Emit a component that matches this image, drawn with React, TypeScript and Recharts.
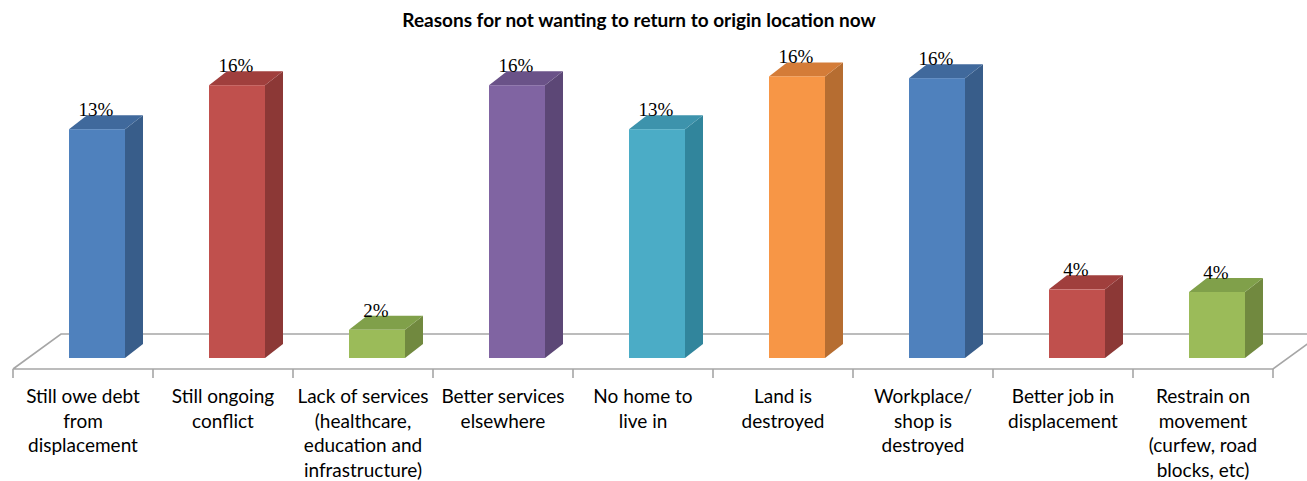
import { BarChart, Bar, XAxis, YAxis, LabelList } from "recharts";

// category labels, already wrapped as in the source chart
const CATEGORY_LINES = [
  ["Still owe debt", "from", "displacement"],
  ["Still ongoing", "conflict"],
  ["Lack of services", "(healthcare,", "education and", "infrastructure)"],
  ["Better services", "elsewhere"],
  ["No home to", "live in"],
  ["Land is", "destroyed"],
  ["Workplace/", "shop is", "destroyed"],
  ["Better job in", "displacement"],
  ["Restrain on", "movement", "(curfew, road", "blocks, etc)"],
];

// share of respondents (%)
const VALUES = [13.0, 15.5, 1.6, 15.5, 13.0, 16.0, 15.9, 3.9, 3.75];
// labels printed on top of the bars
const VALUE_LABELS = ["13%", "16%", "2%", "16%", "13%", "16%", "16%", "4%", "4%"];

const TITLE = "Reasons for not wanting to return to origin location now";

const W = 1307;
const H = 481;
const PLOT_LEFT = 27;
const PLOT_RIGHT = 1287;
const PLOT_TOP = 6;
const BASE_Y = 358;
const XAXIS_H = 110;
const Y_MAX = 20;

// bar depth (3d look)
const DX = 18;
const DY = -14;
// floor geometry relative to the bars
const FLOOR_SHIFT_X = 14;
const FLOOR_SHIFT_Y = 11;
const FLOOR_DX = 48;
const FLOOR_DY = -35;

// office 2007 palette: front, side, top
const PALETTE = [
  { front: "#4F81BD", side: "#385D8A", top: "#40699C" },
  { front: "#C0504D", side: "#8C3836", top: "#A03F3D" },
  { front: "#9BBB59", side: "#71893F", top: "#80A04A" },
  { front: "#8064A2", side: "#5C4776", top: "#6A5288" },
  { front: "#4BACC6", side: "#31859C", top: "#3D93AC" },
  { front: "#F79646", side: "#B66D31", top: "#D47C38" },
];
const COLOR_INDEX = [0, 1, 2, 3, 4, 5, 0, 1, 2];

const data = CATEGORY_LINES.map((lines, i) => ({
  name: lines.join(" "),
  value: VALUES[i],
}));

const Box3D = (props: any) => {
  const { x, y, width, height, index } = props;
  const c = PALETTE[COLOR_INDEX[index % COLOR_INDEX.length]];
  const r = x + width;
  const b = y + height;
  return (
    <g>
      <polygon
        points={`${r},${y} ${r + DX},${y + DY} ${r + DX},${b + DY} ${r},${b}`}
        fill={c.side}
      />
      <polygon
        points={`${x},${y} ${x + DX},${y + DY} ${r + DX},${y + DY} ${r},${y}`}
        fill={c.top}
      />
      <rect x={x} y={y} width={width} height={height} fill={c.front} />
    </g>
  );
};

const ValueLabel = (props: any) => {
  const { x, y, width, index } = props;
  return (
    <text
      x={x + width / 2 - 1}
      y={y + DY + 1}
      textAnchor="middle"
      fontFamily="'Liberation Serif', 'DejaVu Serif', serif"
      fontSize={19}
      fill="#000"
    >
      {VALUE_LABELS[index]}
    </text>
  );
};

const CategoryTick = (props: any) => {
  const { x, index } = props;
  const lines = CATEGORY_LINES[index] || [];
  return (
    <text
      x={x - FLOOR_SHIFT_X}
      y={BASE_Y + 45}
      textAnchor="middle"
      fontFamily="Lato, 'Open Sans', sans-serif"
      fontSize={19}
      fill="#000"
    >
      {lines.map((l, i) => (
        <tspan key={i} x={x - FLOOR_SHIFT_X} dy={i === 0 ? 0 : 24.5}>
          {l}
        </tspan>
      ))}
    </text>
  );
};

function Floor() {
  const fy = BASE_Y + FLOOR_SHIFT_Y;
  const x0 = PLOT_LEFT - FLOOR_SHIFT_X;
  const x1 = PLOT_RIGHT - FLOOR_SHIFT_X;
  const band = (PLOT_RIGHT - PLOT_LEFT) / CATEGORY_LINES.length;
  const ticks = Array.from({ length: CATEGORY_LINES.length + 1 }, (_, i) => x0 + i * band);
  return (
    <g stroke="#A6A6A6" strokeWidth={1.6} fill="none">
      <polyline
        points={`${x0},${fy} ${x0 + FLOOR_DX},${fy + FLOOR_DY} ${x1 + FLOOR_DX},${fy + FLOOR_DY} ${x1},${fy} ${x0},${fy}`}
      />
      {ticks.map((t) => (
        <line key={t} x1={t} y1={fy} x2={t} y2={fy + 9} />
      ))}
    </g>
  );
}

export default function App() {
  return (
    <div style={{ position: "absolute", left: 0, top: 0, width: W, height: H, background: "#fff" }}>
      <svg width={W} height={H} style={{ position: "absolute", left: 0, top: 0 }}>
        <text
          x={639}
          y={27}
          textAnchor="middle"
          fontFamily="Lato, 'Open Sans', sans-serif"
          fontWeight="bold"
          fontSize={19}
          fill="#000"
        >
          {TITLE}
        </text>
        <Floor />
      </svg>
      <div style={{ position: "absolute", left: 0, top: 0 }}>
        <BarChart
          width={W}
          height={H}
          data={data}
          margin={{ top: PLOT_TOP, left: PLOT_LEFT, right: W - PLOT_RIGHT, bottom: H - BASE_Y - XAXIS_H }}
          barCategoryGap="30%"
        >
          <XAxis
            dataKey="name"
            interval={0}
            height={XAXIS_H}
            axisLine={false}
            tickLine={false}
            tick={<CategoryTick />}
          />
          <YAxis hide domain={[0, Y_MAX]} />
          <Bar dataKey="value" shape={<Box3D />} isAnimationActive={false}>
            <LabelList dataKey="value" content={<ValueLabel />} />
          </Bar>
        </BarChart>
      </div>
    </div>
  );
}
